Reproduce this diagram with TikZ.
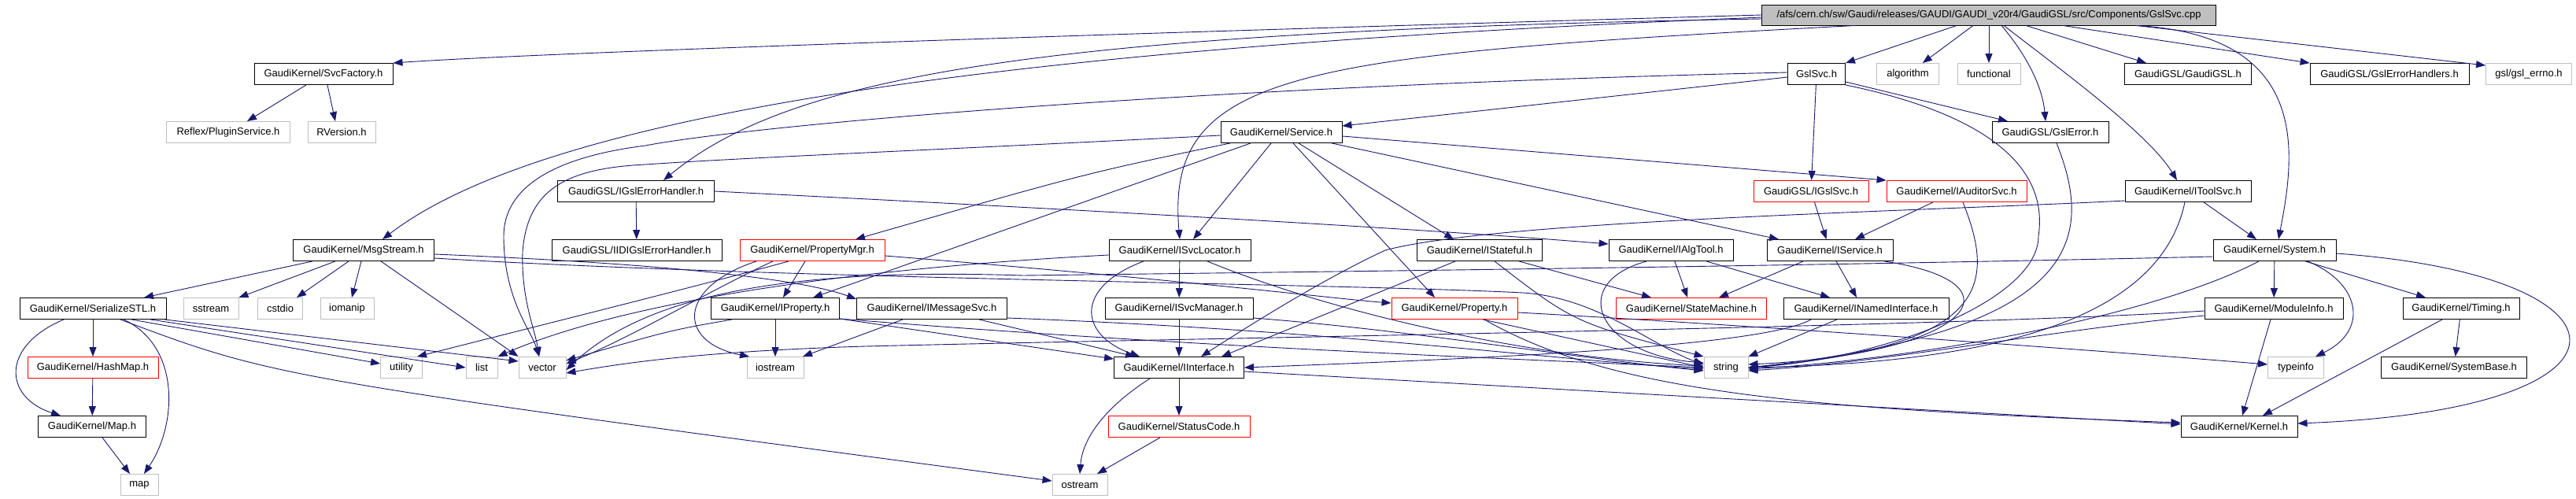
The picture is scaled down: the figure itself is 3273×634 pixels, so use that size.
\documentclass[tikz,border=0pt]{standalone}
\usepackage{fontspec}
\setmainfont{Liberation Sans}
\usetikzlibrary{arrows.meta}
\definecolor{edgeblue}{HTML}{191970}
\definecolor{extgray}{HTML}{BFBFBF}
\begin{document}
\begin{tikzpicture}[x=1pt,y=-1pt,
  box/.style={draw=black,line width=0.9pt,minimum height=27pt,inner sep=0pt,font=\fontsize{13}{15}\selectfont},
  redbox/.style={box,draw=red},
  extbox/.style={box,draw=extgray},
  e/.style={draw=edgeblue,line width=0.9pt,-{Triangle[length=12pt,width=9pt]}}]
\useasboundingbox (0,0) rectangle (3273,634);
\fill[white] (0,0) rectangle (3273,634);
% row 0
\node[box,fill=extgray,minimum width=577pt,minimum height=26pt] (main) at (2527,19) {/afs/cern.ch/sw/Gaudi/releases/GAUDI/GAUDI\_v20r4/GaudiGSL/src/Components/GslSvc.cpp};
% row 1
\node[box,minimum width=176pt] (svcfac) at (411,94) {GaudiKernel/SvcFactory.h};
\node[box,minimum width=73pt] (gslsvch) at (2308,94) {GslSvc.h};
\node[extbox,minimum width=79pt] (algorithm) at (2424,94) {algorithm};
\node[extbox,minimum width=80pt] (functional) at (2527,94) {functional};
\node[box,minimum width=161pt] (gaudigsl) at (2780,94) {GaudiGSL/GaudiGSL.h};
\node[box,minimum width=202pt] (gslerrh) at (3036,94) {GaudiGSL/GslErrorHandlers.h};
\node[extbox,minimum width=109pt] (gslerrno) at (3213,94) {gsl/gsl\_errno.h};
% row 2
\node[extbox,minimum width=157pt] (plugin) at (290,168) {Reflex/PluginService.h};
\node[extbox,minimum width=86pt] (rversion) at (434,168) {RVersion.h};
\node[box,minimum width=154pt] (service) at (1628,168) {GaudiKernel/Service.h};
\node[box,minimum width=148pt] (gslerror) at (2605,168) {GaudiGSL/GslError.h};
% row 3
\node[box,minimum width=199pt] (igslerrh) at (808,243) {GaudiGSL/IGslErrorHandler.h};
\node[redbox,minimum width=146pt] (igslsvc) at (2301,243) {GaudiGSL/IGslSvc.h};
\node[redbox,minimum width=178pt] (iauditor) at (2486,243) {GaudiKernel/IAuditorSvc.h};
\node[box,minimum width=160pt] (itoolsvc) at (2780,243) {GaudiKernel/IToolSvc.h};
% row 4
\node[box,minimum width=179pt] (msgstream) at (462,318) {GaudiKernel/MsgStream.h};
\node[box,minimum width=216pt] (iidi) at (809,318) {GaudiGSL/IIDIGslErrorHandler.h};
\node[redbox,minimum width=184pt] (propmgr) at (1032,318) {GaudiKernel/PropertyMgr.h};
\node[box,minimum width=180pt] (isvcloc) at (1499,318) {GaudiKernel/ISvcLocator.h};
\node[box,minimum width=159pt] (istateful) at (1880,318) {GaudiKernel/IStateful.h};
\node[box,minimum width=158pt] (ialgtool) at (2123,318) {GaudiKernel/IAlgTool.h};
\node[box,minimum width=160pt] (iservice) at (2325,318) {GaudiKernel/IService.h};
\node[box,minimum width=156pt] (system) at (2890,318) {GaudiKernel/System.h};
% row 5
\node[box,minimum width=186pt] (serialize) at (118,392) {GaudiKernel/SerializeSTL.h};
\node[extbox,minimum width=70pt] (sstream) at (268,392) {sstream};
\node[extbox,minimum width=57pt] (cstdio) at (356,392) {cstdio};
\node[extbox,minimum width=68pt] (iomanip) at (441,392) {iomanip};
\node[box,minimum width=163pt] (iproperty) at (985,392) {GaudiKernel/IProperty.h};
\node[box,minimum width=191pt] (imsgsvc) at (1184,392) {GaudiKernel/IMessageSvc.h};
\node[box,minimum width=188pt] (isvcmgr) at (1498,392) {GaudiKernel/ISvcManager.h};
\node[redbox,minimum width=160pt] (property) at (1848,392) {GaudiKernel/Property.h};
\node[redbox,minimum width=191pt] (statemachine) at (2149,392) {GaudiKernel/StateMachine.h};
\node[box,minimum width=210pt] (inamed) at (2371,392) {GaudiKernel/INamedInterface.h};
\node[box,minimum width=176pt] (moduleinfo) at (2889,392) {GaudiKernel/ModuleInfo.h};
\node[box,minimum width=148pt] (timing) at (3127,392) {GaudiKernel/Timing.h};
% row 6
\node[redbox,minimum width=166pt] (hashmap) at (118,467) {GaudiKernel/HashMap.h};
\node[extbox,minimum width=53pt] (utility) at (510,467) {utility};
\node[extbox,minimum width=40pt] (list) at (612,467) {list};
\node[extbox,minimum width=60pt] (vector) at (689,467) {vector};
\node[extbox,minimum width=72pt] (iostream) at (985,467) {iostream};
\node[box,minimum width=165pt] (iinterface) at (1498,467) {GaudiKernel/IInterface.h};
\node[extbox,minimum width=56pt] (string) at (2193,467) {string};
\node[extbox,minimum width=71pt] (typeinfo) at (2917,467) {typeinfo};
\node[box,minimum width=185pt] (systembase) at (3118,467) {GaudiKernel/SystemBase.h};
% row 7
\node[box,minimum width=137pt] (mapH) at (117,542) {GaudiKernel/Map.h};
\node[redbox,minimum width=180pt] (statuscode) at (1498,542) {GaudiKernel/StatusCode.h};
\node[box,minimum width=148pt] (kernel) at (2845,542) {GaudiKernel/Kernel.h};
% row 8
\node[extbox,minimum width=48pt] (map) at (177,616) {map};
\node[extbox,minimum width=70pt] (ostream) at (1372,616) {ostream};

% ---- edges from main
\draw[e] (main.west) .. controls (1500,40) and (700,66) .. (svcfac.north east);
\draw[e] ([yshift=-3pt]main.west) .. controls (1300,60) and (700,140) .. ([xshift=24pt]msgstream.north);
\draw[e] ([yshift=-5pt]main.west) .. controls (1300,40) and (1000,100) .. ([xshift=35pt]igslerrh.north);
\draw[e] ([xshift=-170pt]main.south) .. controls (1650,70) and (1480,90) .. (isvcloc.north);
\draw[e] ([xshift=-41pt]main.south) -- (gslsvch.north east);
\draw[e] ([xshift=-20pt]main.south) -- (algorithm);
\draw[e] (main) -- (functional);
\draw[e] ([xshift=47pt]main.south) -- ([xshift=-53pt]gaudigsl.north);
\draw[e] ([xshift=94pt]main.south) -- (gslerrh.north west);
\draw[e] ([xshift=187pt]main.south) -- ([yshift=-3pt]gslerrno.north west);
\draw[e] ([xshift=16pt]main.south) .. controls (2575,70) and (2595,110) .. ([xshift=-6pt]gslerror.north);
\draw[e] ([xshift=19pt]main.south) .. controls (2620,90) and (2730,170) .. ([xshift=-14pt]itoolsvc.north);
\draw[e] ([xshift=187pt]main.south) .. controls (2940,45) and (2915,200) .. ([xshift=5pt]system.north);
% ---- SvcFactory
\draw[e] ([xshift=-22pt]svcfac.south) -- ([xshift=24pt]plugin.north);
\draw[e] ([xshift=5pt]svcfac.south) -- ([xshift=-8pt]rversion.north);
% ---- GslSvc.h
\draw[e] ([yshift=-4pt]gslsvch.west) -- ([yshift=8pt]service.east);
\draw[e] ([yshift=2pt]gslsvch.west) .. controls (1500,110) and (950,160) .. (820,185) .. controls (700,200) and (640,240) .. (640,300) .. controls (640,380) and (675,420) .. ([xshift=-4pt]vector.north);
\draw[e] (gslsvch) -- (igslsvc);
\draw[e] ([yshift=-10pt]gslsvch.east) -- ([xshift=-54pt]gslerror.north);
\draw[e] (gslsvch.south east) .. controls (2500,140) and (2605,200) .. (2590,300) .. controls (2590,380) and (2400,455) .. (string.east);
% ---- Service.h
\draw[e] ([yshift=-5pt]service.east) -- (iauditor.north west);
\draw[e] ([xshift=64pt]service.south) -- ([xshift=-65pt]iservice.north);
\draw[e] ([xshift=22pt]service.south) -- ([xshift=-33pt]istateful.north);
\draw[e] ([xshift=15pt]service.south) -- ([xshift=-25pt]property.north);
\draw[e] ([xshift=-13pt]service.south) -- ([xshift=17pt]isvcloc.north);
\draw[e] ([xshift=-39pt]service.south) -- ([xshift=48pt]iproperty.north);
\draw[e] ([xshift=-65pt]service.south) .. controls (1380,220) .. ([xshift=55pt]propmgr.north);
\draw[e] ([yshift=-4pt]service.west) .. controls (1200,190) and (950,200) .. (820,209) .. controls (720,214) and (670,240) .. (664,320) .. controls (662,380) and (680,420) .. ([xshift=-4pt]vector.north);
% ---- IGslErrorHandler
\draw[e] (igslerrh) -- (iidi);
\draw[e] (igslerrh.east) .. controls (1400,268) and (1800,290) .. ([yshift=8pt]ialgtool.west);
% ---- IGslSvc, IAuditorSvc
\draw[e] (igslsvc) -- (iservice);
\draw[e] ([xshift=-30pt]iauditor.south) -- ([xshift=32pt]iservice.north);
\draw[e] ([xshift=8pt]iauditor.south) .. controls (2535,360) and (2530,440) .. (string.east);
% ---- GslError
\draw[e] ([xshift=8pt]gslerror.south) .. controls (2660,300) and (2650,420) .. (string.east);
% ---- IToolSvc
\draw[e] ([xshift=20pt]itoolsvc.south) -- ([xshift=-23pt]system.north);
\draw[e] ([xshift=-4pt]itoolsvc.south) .. controls (2750,380) and (2600,460) .. (string.east);
\draw[e] ([yshift=-12pt]itoolsvc.west) .. controls (2450,268) and (1900,280) .. (1760,318) .. controls (1680,355) and (1585,415) .. ([xshift=28pt]iinterface.north);
% ---- MsgStream
\draw[e] ([xshift=-65pt]msgstream.south) -- ([xshift=65pt]serialize.north);
\draw[e] ([xshift=-36pt]msgstream.south) -- (sstream.north east);
\draw[e] ([xshift=-19pt]msgstream.south) -- ([xshift=21pt]cstdio.north);
\draw[e] ([xshift=-3pt]msgstream.south) -- ([xshift=6pt]iomanip.north);
\draw[e] ([xshift=22pt]msgstream.south) -- (vector.north west);
\draw[e] ([yshift=-5pt]msgstream.east) .. controls (850,335) and (1020,355) .. ([yshift=12pt]imsgsvc.west);
\draw[e] ([yshift=-10pt]msgstream.east) .. controls (1000,355) and (1700,360) .. (1935,372) .. controls (2030,378) and (2100,440) .. ([yshift=4pt]string.west);
% ---- SerializeSTL
\draw[e] ([xshift=-37pt]serialize.south) .. controls (0,440) and (5,505) .. ([xshift=-40pt]mapH.north);
\draw[e] (serialize) -- (hashmap);
\draw[e] ([xshift=39pt]serialize.south) .. controls (230,440) and (225,540) .. ([xshift=6pt]map.north);
\draw[e] ([xshift=49pt]serialize.south) -- ([yshift=5pt]utility.west);
\draw[e] ([xshift=73pt]serialize.south) -- (list.west);
\draw[e] ([xshift=91pt]serialize.south) -- ([yshift=8pt]vector.west);
\draw[e] ([xshift=35pt]serialize.south) .. controls (350,480) .. ([yshift=5pt]ostream.west);
% ---- HashMap, Map
\draw[e] (hashmap) -- (mapH);
\draw[e] ([xshift=13pt]mapH.south) -- ([xshift=-12pt]map.north);
% ---- PropertyMgr
\draw[e] ([xshift=-9pt]propmgr.south) -- ([xshift=10pt]iproperty.north);
\draw[e] ([xshift=-71pt]propmgr.south) .. controls (860,365) and (860,435) .. ([xshift=-33pt]iostream.north);
\draw[e] ([xshift=-50pt]propmgr.south) .. controls (900,370) and (800,430) .. ([yshift=5pt]vector.east);
\draw[e] ([xshift=-30pt]propmgr.south) .. controls (900,360) and (700,410) .. ([xshift=20pt]utility.north);
\draw[e] ([yshift=-7pt]propmgr.east) .. controls (1500,355) and (1700,380) .. ([yshift=7pt]property.west);
% ---- IProperty
\draw[e] (iproperty) -- (iostream);
\draw[e] ([yshift=-13pt]iproperty.east) -- ([yshift=11pt]iinterface.west);
\draw[e] ([xshift=-55pt]iproperty.south) .. controls (850,420) .. ([yshift=9pt]vector.east);
\draw[e] ([yshift=-13pt]iproperty.east) .. controls (1500,440) and (1900,455) .. (string.west);
% ---- IMessageSvc
\draw[e] ([xshift=-37pt]imsgsvc.south) -- ([xshift=35pt]iostream.north);
\draw[e] ([xshift=60pt]imsgsvc.south) -- ([xshift=-56pt]iinterface.north);
\draw[e] ([yshift=-12pt]imsgsvc.east) .. controls (1700,420) and (1950,455) .. ([yshift=-2pt]string.west);
% ---- ISvcLocator
\draw[e] (isvcloc) -- (isvcmgr);
\draw[e] ([xshift=-46pt]isvcloc.south) .. controls (1365,365) and (1370,425) .. ([xshift=-50pt]iinterface.north);
\draw[e] ([xshift=35pt]isvcloc.south) .. controls (1700,400) and (1950,455) .. ([yshift=2pt]string.west);
\draw[e] ([yshift=-6pt]isvcloc.west) .. controls (1100,340) and (800,380) .. (list.north east);
% ---- ISvcManager
\draw[e] (isvcmgr) -- (iinterface);
\draw[e] ([yshift=-12pt]isvcmgr.east) .. controls (1800,420) and (2000,455) .. ([yshift=-4pt]string.west);
% ---- IInterface, StatusCode
\draw[e] (iinterface) -- (statuscode);
\draw[e] ([yshift=-5pt]iinterface.east) -- ([yshift=3pt]kernel.west);
\draw[e] ([xshift=-37pt]iinterface.south) .. controls (1400,520) and (1375,560) .. (ostream.north);
\draw[e] ([xshift=-24pt]statuscode.south) -- ([xshift=22pt]ostream.north);
% ---- Property
\draw[e] ([xshift=36pt]property.south) -- (string.west);
\draw[e] ([xshift=38pt]property.south) .. controls (2050,500) and (2300,520) .. ([yshift=5pt]kernel.west);
\draw[e] ([yshift=-5pt]property.east) .. controls (2200,412) and (2600,440) .. ([yshift=4pt]typeinfo.west);
% ---- IStateful
\draw[e] ([xshift=50pt]istateful.south) -- ([xshift=-51pt]statemachine.north);
\draw[e] ([xshift=19pt]istateful.south) .. controls (2000,410) .. (string.north west);
\draw[e] ([xshift=-31pt]istateful.south) -- ([xshift=54pt]iinterface.north);
% ---- IAlgTool
\draw[e] (ialgtool) -- (statemachine);
\draw[e] ([xshift=45pt]ialgtool.south) -- ([xshift=-46pt]inamed.north);
\draw[e] ([xshift=-31pt]ialgtool.south) .. controls (1990,360) and (2030,450) .. ([yshift=6pt]string.west);
% ---- IService
\draw[e] ([xshift=-34pt]iservice.south) -- ([xshift=35pt]statemachine.north);
\draw[e] ([xshift=8pt]iservice.south) -- ([xshift=-12pt]inamed.north);
\draw[e] ([xshift=69pt]iservice.south) .. controls (2580,360) and (2500,450) .. ([yshift=4pt]string.east);
% ---- INamedInterface
\draw[e] ([xshift=-37pt]inamed.south) -- (string.north east);
\draw[e] ([xshift=-70pt]inamed.south) .. controls (2240,440) and (1900,455) .. (iinterface.east);
% ---- System
\draw[e] (system) -- (moduleinfo);
\draw[e] ([xshift=39pt]system.south) -- ([xshift=-45pt]timing.north);
\draw[e] ([xshift=42pt]system.south) .. controls (3000,360) and (3010,420) .. ([xshift=25pt]typeinfo.north);
\draw[e] ([yshift=-4pt]system.east) .. controls (3360,350) and (3380,520) .. ([yshift=4pt]kernel.east);
\draw[e] ([xshift=-20pt]system.south) .. controls (2740,400) and (2450,455) .. ([yshift=-2pt]string.east);
\draw[e] ([yshift=-8pt]system.west) .. controls (2300,338) and (1700,345) .. (1300,350) .. controls (1000,340) and (820,375) .. ([yshift=-3pt]vector.east);
% ---- ModuleInfo
\draw[e] ([xshift=-4pt]moduleinfo.south) -- ([xshift=4pt]kernel.north);
\draw[e] ([yshift=-9pt]moduleinfo.west) .. controls (2600,420) and (2400,460) .. ([yshift=-4pt]string.east);
\draw[e] ([yshift=-3pt]moduleinfo.west) .. controls (2500,415) and (1500,430) .. (1100,440) .. controls (900,446) and (800,460) .. ([yshift=-7pt]vector.east);
% ---- Timing
\draw[e] (timing) -- (systembase);
\draw[e] ([xshift=-24pt]timing.south) -- ([xshift=30pt]kernel.north);
\end{tikzpicture}
\end{document}
